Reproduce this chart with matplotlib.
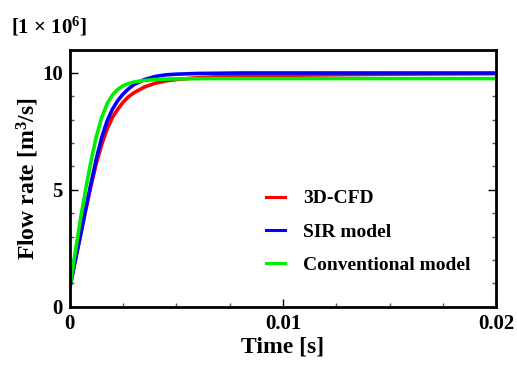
"""Flow rate transient: 3D-CFD against the SIR and conventional models."""

import matplotlib

matplotlib.use("Agg")

import matplotlib.pyplot as plt  # noqa: E402
from matplotlib.ticker import MultipleLocator  # noqa: E402

plt.rcParams["font.family"] = ["Liberation Serif", "DejaVu Serif"]
plt.rcParams["font.weight"] = "bold"
plt.rcParams["mathtext.fontset"] = "custom"
plt.rcParams["mathtext.rm"] = "Liberation Serif:bold"
plt.rcParams["mathtext.bf"] = "Liberation Serif:bold"
plt.rcParams["mathtext.default"] = "bf"

# Time [s] and flow rate [x 1e6 m^3/s]
TIME_CFD = [0, 0.00025, 0.0005, 0.00075, 0.001, 0.00125, 0.0015, 0.00175, 0.002,
            0.00225, 0.0025, 0.00275, 0.003, 0.0035, 0.004, 0.0045, 0.005, 0.006,
            0.007, 0.008, 0.01, 0.015, 0.02]
FLOW_CFD = [0.8, 1.95, 3.05, 4.15, 5.2, 6.15, 6.95, 7.6, 8.1,
            8.45, 8.75, 8.98, 9.15, 9.4, 9.56, 9.66, 9.72, 9.8,
            9.84, 9.87, 9.9, 9.95, 9.97]

TIME_SIR = [0, 0.00025, 0.0005, 0.00075, 0.001, 0.00125, 0.0015, 0.00175, 0.002,
            0.00225, 0.0025, 0.00275, 0.003, 0.0035, 0.004, 0.0045, 0.005, 0.006,
            0.008, 0.02]
FLOW_SIR = [0.8, 1.95, 3.05, 4.2, 5.3, 6.35, 7.25, 7.95, 8.45,
            8.82, 9.1, 9.32, 9.5, 9.72, 9.85, 9.92, 9.95, 9.98,
            10.0, 10.0]

TIME_CONV = [0, 0.00025, 0.0005, 0.00075, 0.001, 0.00125, 0.0015, 0.00175, 0.002,
             0.00225, 0.0025, 0.00275, 0.003, 0.0035, 0.004, 0.005, 0.0065, 0.02]
FLOW_CONV = [0.8, 2.3, 3.75, 5.05, 6.25, 7.3, 8.1, 8.68, 9.06,
             9.3, 9.45, 9.55, 9.61, 9.68, 9.72, 9.75, 9.76, 9.76]

fig = plt.figure(figsize=(5.17, 3.65), dpi=100)
ax = fig.add_axes([0.135, 0.16, 0.825, 0.704])

ax.plot(TIME_CFD, FLOW_CFD, color="#ff0000", linewidth=2.6, label="3D-CFD")
ax.plot(TIME_SIR, FLOW_SIR, color="#0000ff", linewidth=2.6, label="SIR model")
ax.plot(TIME_CONV, FLOW_CONV, color="#00ee00", linewidth=2.6, label="Conventional model")

ax.set_xlim(0, 0.02)
ax.set_ylim(0, 11)
ax.set_xticks([0, 0.01, 0.02])
ax.set_xticklabels(["0", "0.01", "0.02"])
ax.set_yticks([0, 5, 10])
ax.xaxis.set_minor_locator(MultipleLocator(0.0025))
ax.yaxis.set_minor_locator(MultipleLocator(1))
ax.tick_params(which="both", direction="in", right=True, top=False, width=1.0,
               labelsize=15, pad=5)
ax.tick_params(which="major", length=6)
ax.tick_params(which="minor", length=3, color="#555555")
for spine in ax.spines.values():
    spine.set_linewidth(2.0)

ax.set_xlabel("Time [s]", fontsize=17, fontweight="bold", labelpad=2)
ax.set_ylabel("Flow rate [m$^3$/s]", fontsize=17, fontweight="bold", labelpad=1)
fig.text(0.022, 0.91, r"[1 $\times$ 10$^6$]", fontsize=15, fontweight="bold")

leg = ax.legend(loc="lower right", bbox_to_anchor=(0.98, 0.06), frameon=False,
                handlelength=1.0, handletextpad=0.9, labelspacing=0.8,
                prop={"weight": "bold", "size": 14})
for line in leg.get_lines():
    line.set_linewidth(2.2)

fig.savefig("out.png", dpi=100)
